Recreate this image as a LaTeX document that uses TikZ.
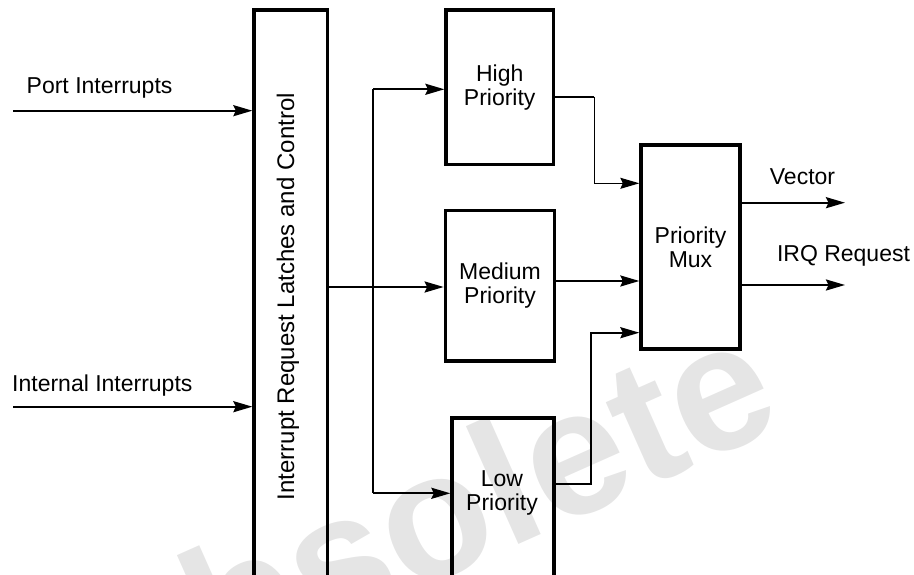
\documentclass[tikz,border=0pt]{standalone}
\usepackage{fontspec}
\setmainfont{Liberation Sans}
\usetikzlibrary{arrows.meta}
\newcommand{\lblfont}{\fontsize{23}{24}\selectfont}
\tikzset{
  blk/.style={draw, line width=3.3pt, inner sep=0pt, align=center, font=\lblfont},
  lbl/.style={inner sep=0pt, font=\lblfont, align=center},
  wire/.style={line width=2.2pt},
  thinwire/.style={line width=1.2pt},
  arr/.style={-{Stealth[length=19pt,width=11pt,inset=2.5pt]}},
  wmark/.style={inner sep=0pt, text=black!10, font=\fontsize{178}{178}\selectfont\bfseries},
}
\begin{document}
\begin{tikzpicture}[x=1pt,y=1pt]
\useasboundingbox (0,0) rectangle (914,575);
\clip (0,0) rectangle (914,575);
% watermark
\node[wmark, rotate=24, anchor=base] (wm) at (453,1) {obsolete};
% boxes
\node[blk, minimum width=73.5pt, minimum height=578pt] (latch) at (290.75,276) {};
\node[lbl, rotate=90, font=\fontsize{24}{25}\selectfont] (latchtxt) at (288,278.3) {Interrupt Request Latches and Control};
\node[blk, minimum width=107.3pt, minimum height=154.3pt] (high) at (499.7,487.8) {High\\Priority};
\node[blk, minimum width=109.4pt, minimum height=150.7pt] (med) at (500,289.4) {Medium\\Priority};
\node[blk, minimum width=102pt, minimum height=197pt] (low) at (503,58.5) {};
\node[lbl] (lowtxt) at (502,82.3) {Low\\Priority};
\node[blk, minimum width=99pt, minimum height=204pt] (mux) at (690.5,328) {Priority\\Mux};
% labels
\node[lbl, anchor=base west] (portlbl) at (26.5,481.5) {Port Interrupts};
\node[lbl, anchor=base west] (intlbl) at (12,183.3) {Internal Interrupts};
\node[lbl, anchor=base] (veclbl) at (802.5,390) {Vector};
\node[lbl, anchor=base] (irqlbl) at (843.5,313.3) {IRQ Request};
% coordinates
\coordinate (pin) at (13,464.3);
\coordinate (iin) at (13,168.3);
\coordinate (mid) at (0,288);
\coordinate (bustop) at (373.2,485.7);
\coordinate (busbot) at (373.2,81.7);
\coordinate (hc1) at (594.3,478.3);
\coordinate (hc2) at (594.3,391.7);
\coordinate (medout) at (0,294);
\coordinate (lc1) at (590.7,90.7);
\coordinate (lc2) at (590.7,242.3);
\coordinate (vend) at (845,372.3);
\coordinate (iend) at (845,290);
% connectors
\draw[wire, arr] (pin) -- (pin -| latch.west);
\draw[wire, arr] (iin) -- (iin -| latch.west);
\draw[wire, arr] (latch.east |- mid) -- (med.west |- mid);
\draw[wire] (bustop) -- (busbot);
\draw[wire, arr] (bustop) -- (bustop -| high.west);
\draw[wire, arr] (busbot) -- (busbot -| low.west);
\draw[wire] (high.east |- hc1) -- (hc1);
\draw[thinwire, arr] (hc1) -- (hc2) -- (hc2 -| mux.west);
\draw[wire, arr] (med.east |- medout) -- (mux.west |- medout);
\draw[wire, arr] (low.east |- lc1) -- (lc1) -- (lc2) -- (lc2 -| mux.west);
\draw[wire, arr] (mux.east |- vend) -- (vend);
\draw[wire, arr] (mux.east |- iend) -- (iend);
\end{tikzpicture}
\end{document}
